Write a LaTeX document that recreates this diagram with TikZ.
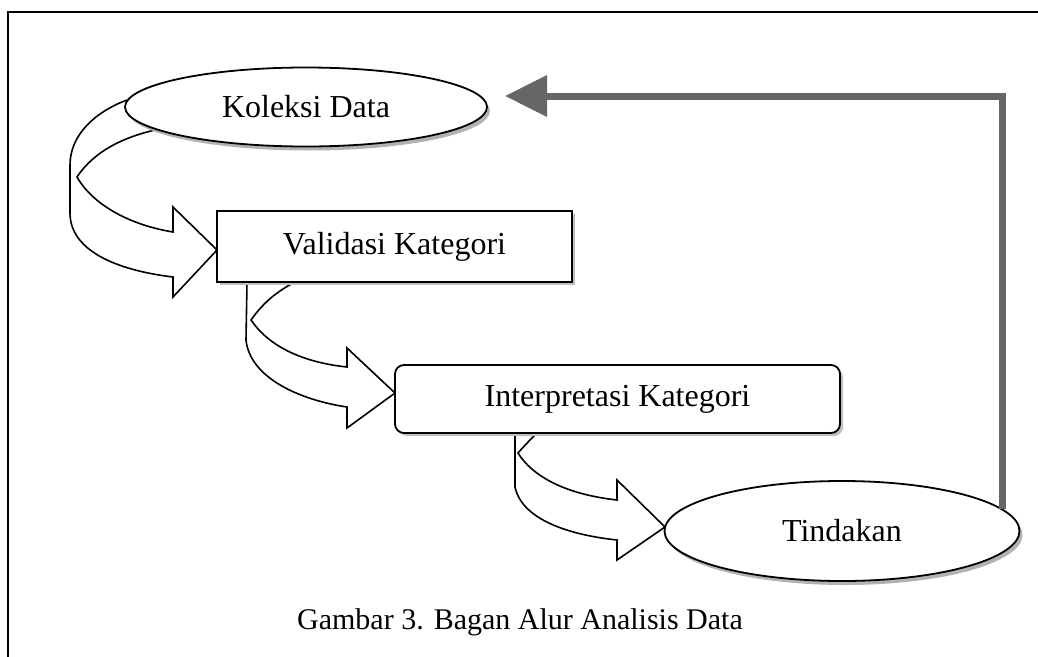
\documentclass[tikz,border=0pt]{standalone}
\usepackage{fontspec}
\setmainfont{Liberation Serif}
\usetikzlibrary{shapes.geometric,shadows,arrows.meta}
\begin{document}
\begin{tikzpicture}[x=1pt,y=-1pt,
  lbl/.style={font=\fontsize{32}{38}\selectfont},
  caplbl/.style={font=\fontsize{30}{36}\selectfont},
  ellbox/.style={ellipse,draw=black,line width=1.8pt,fill=white,inner sep=0pt,lbl,
    drop shadow={shadow xshift=3pt,shadow yshift=-4pt,fill=gray!60,opacity=1}},
  recbox/.style={rectangle,draw=black,line width=1.8pt,fill=white,inner sep=0pt,lbl,
    drop shadow={shadow xshift=3pt,shadow yshift=-3pt,fill=gray!50,opacity=1}},
  bendarrow/.style={draw=black,line width=1.6pt,fill=white,line join=miter},
  fb/.style={draw=black!60,line width=7pt,-{Triangle[length=42pt,width=40pt]}},
  frame/.style={draw=black,line width=2pt}
]
\useasboundingbox (0,0) rectangle (1038,656);
% outer frame
\draw[frame] (8,680) -- (8,12) -- (1060,12);

% curved block arrows
\path[bendarrow] (127,100) .. controls (95,112) and (70,135) .. (70,165) -- (70,213)
  .. controls (70,250) and (115,270) .. (173,277) -- (173,297) -- (217,250) -- (173,207) -- (173,232)
  .. controls (130,225) and (93,205) .. (77,177) .. controls (95,150) and (125,137) .. (155,130);
\path[bendarrow] (247,282) -- (246,340) .. controls (250,378) and (300,400) .. (347,407)
  -- (347,428) -- (395,393) -- (347,348) -- (347,367)
  .. controls (300,362) and (268,345) .. (251,320) .. controls (265,300) and (280,290) .. (295,282);
\path[bendarrow] (515,433) -- (515,487) .. controls (522,520) and (570,535) .. (617,540)
  -- (617,560) -- (665,527) -- (617,480) -- (617,500)
  .. controls (572,495) and (535,480) .. (518,453) .. controls (525,445) and (530,440) .. (537,433);

% nodes
\node[ellbox,minimum width=362pt,minimum height=79pt] (kol) at (306,107) {Koleksi Data};
\node[recbox,minimum width=355pt,minimum height=71pt] (val) at (394.5,246.5) {Validasi Kategori};
\node[recbox,rounded corners=9pt,minimum width=445pt,minimum height=68pt] (int) at (617.5,399) {Interpretasi Kategori};
\node[ellbox,minimum width=355pt,minimum height=100pt] (tind) at (842,531) {Tindakan};

% feedback arrow
\coordinate (fbtip) at (505,96);
\draw[fb] (tind.8) |- (fbtip);

% caption
\node[caplbl] (cap) at (520,622) {Gambar 3. Bagan Alur Analisis Data};
\end{tikzpicture}
\end{document}
